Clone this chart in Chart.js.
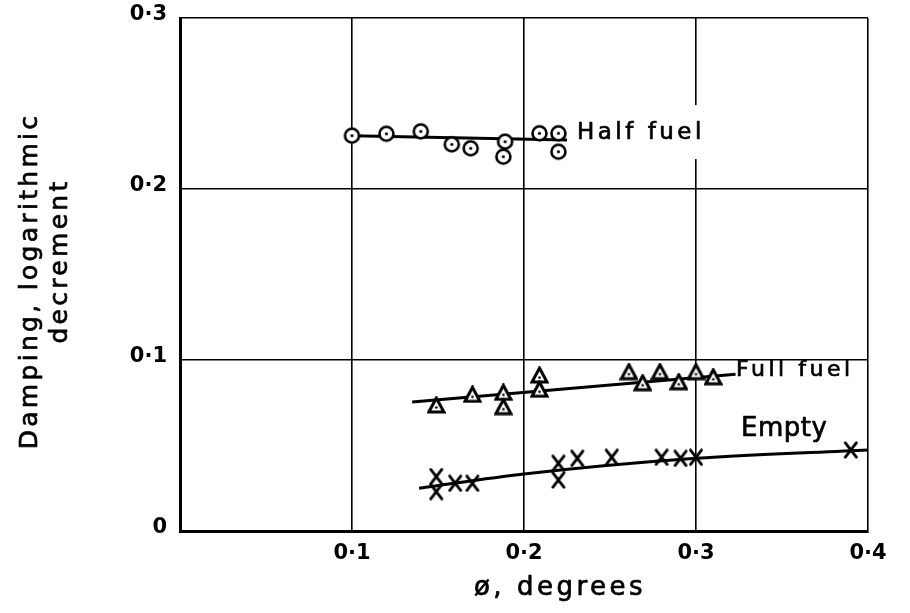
<!DOCTYPE html>
<html><head><meta charset="utf-8">
<script src="https://cdn.jsdelivr.net/npm/chart.js@4"></script>
<style>html,body{margin:0;padding:0;background:#fff}#wrap{width:910px;height:613px;position:relative;background:#fff}</style>
</head><body><div id="wrap"><canvas id="c" width="910" height="613"></canvas></div>
<script>
// ---- data ----
const halfX  = [0.100, 0.120, 0.140, 0.158, 0.169, 0.189, 0.188, 0.209, 0.220, 0.220];
const halfY  = [0.2312, 0.2323, 0.2337, 0.2261, 0.2238, 0.2277, 0.2189, 0.2326, 0.2326, 0.2218];
const fullX  = [0.149, 0.170, 0.188, 0.188, 0.209, 0.209, 0.261, 0.269, 0.279, 0.290, 0.300, 0.310];
const fullY  = [0.0737, 0.0799, 0.0811, 0.0727, 0.0912, 0.0829, 0.0932, 0.0867, 0.0932, 0.0873, 0.0932, 0.0902];
const emptyX = [0.149, 0.149, 0.160, 0.170, 0.220, 0.220, 0.231, 0.251, 0.280, 0.291, 0.300, 0.390];
const emptyY = [0.0318, 0.0230, 0.0279, 0.0279, 0.0396, 0.0298, 0.0425, 0.0431, 0.0431, 0.0425, 0.0431, 0.0474];
const halfFitX  = [0.100, 0.225];
const halfFitY  = [0.2312, 0.2287];
const fullFitX  = [0.135, 0.323];
const fullFitY  = [0.0755, 0.0916];
const emptyFitX = [0.139, 0.200, 0.300, 0.400];
const emptyFitY = [0.0250, 0.0333, 0.0425, 0.0474];
const xTickLabels = ['', '0·1', '0·2', '0·3', '0·4'];
const yTickLabels = ['0', '0·1', '0·2', '0·3'];
const seriesNames = ['Half fuel', 'Full fuel', 'Empty'];
const xTitle = 'ø, degrees';
const yTitle = ['Damping, logarithmic', 'decrement'];

// ---- marker images ----
function mk(w, h, draw) {
  const c = document.createElement('canvas'); c.width = w; c.height = h;
  const g = c.getContext('2d'); g.strokeStyle = '#000'; g.fillStyle = '#fff'; draw(g); return c;
}
const circleDot = mk(19, 19, g => {
  g.lineWidth = 2.6; g.beginPath(); g.arc(9.5, 9.5, 7, 0, Math.PI * 2); g.fill(); g.stroke();
  g.fillStyle = '#000'; g.beginPath(); g.arc(9.5, 9.5, 1.6, 0, Math.PI * 2); g.fill();
});
const triDot = mk(19, 18, g => {
  g.lineWidth = 3; g.lineJoin = 'miter'; g.beginPath();
  g.moveTo(9.5, 2); g.lineTo(17, 16); g.lineTo(2, 16); g.closePath(); g.fill(); g.stroke();
  g.fillStyle = '#000'; g.beginPath(); g.arc(9.5, 11.5, 1.3, 0, Math.PI * 2); g.fill();
});
const xMark = mk(16, 18, g => {
  g.lineWidth = 2.8; g.lineCap = 'round'; g.beginPath();
  g.moveTo(2.5, 1.8); g.lineTo(13.5, 16.2); g.moveTo(13.5, 1.8); g.lineTo(2.5, 16.2); g.stroke();
});

const pts = (xs, ys) => xs.map((x, i) => ({ x, y: ys[i] }));

// ---- text plugin (axis titles and series labels) ----
function heavyText(ctx, t, x, y) { ctx.fillText(t, x, y); ctx.strokeText(t, x, y); }
const textPlugin = {
  id: 'texts',
  afterDraw(chart) {
    const ctx = chart.ctx, xs = chart.scales.x, ys = chart.scales.y;
    ctx.save();
    ctx.fillStyle = '#000'; ctx.strokeStyle = '#000'; ctx.lineWidth = 0.7; ctx.lineJoin = 'round';
    ctx.textBaseline = 'alphabetic';
    const labels = [
      { t: seriesNames[0], x: 0.2308, y: 0.2292, f: '23px "DejaVu Sans"', s: '3.5px', clear: true },
      { t: seriesNames[1], x: 0.3233, y: 0.0906, f: '22px "DejaVu Sans"', s: '3.5px' },
      { t: seriesNames[2], x: 0.3262, y: 0.0556, f: '26px "DejaVu Sans"', s: '0.5px' }
    ];
    ctx.textAlign = 'left';
    for (const l of labels) {
      ctx.font = l.f; ctx.letterSpacing = l.s;
      const px = xs.getPixelForValue(l.x), py = ys.getPixelForValue(l.y);
      if (l.clear) {
        const w = ctx.measureText(l.t).width;
        ctx.fillStyle = '#fff'; ctx.fillRect(px - 3, py - 34, w + 6, 54); ctx.fillStyle = '#000';
      }
      heavyText(ctx, l.t, px, py);
    }
    ctx.font = '26px "DejaVu Sans"'; ctx.letterSpacing = '3.5px'; ctx.textAlign = 'center';
    heavyText(ctx, xTitle, 560, 595);
    ctx.font = '25px "DejaVu Sans"'; ctx.letterSpacing = '3.3px';
    const lines = [{ bx: 37, cy: 281 }, { bx: 67, cy: 261 }];
    yTitle.forEach((t, i) => {
      ctx.save(); ctx.translate(lines[i].bx, lines[i].cy); ctx.rotate(-Math.PI / 2);
      heavyText(ctx, t, 0, 0); ctx.restore();
    });
    ctx.restore();
  }
};

const tickFont = { family: 'DejaVu Sans', size: 21, weight: 'bold' };

new Chart(document.getElementById('c'), {
  type: 'scatter',
  data: {
    datasets: [
      { label: seriesNames[0], data: pts(halfX, halfY), pointStyle: circleDot, pointRadius: 9, order: 1 },
      { label: seriesNames[1], data: pts(fullX, fullY), pointStyle: triDot, pointRadius: 9, order: 1 },
      { label: seriesNames[2], data: pts(emptyX, emptyY), pointStyle: xMark, pointRadius: 9, order: 1 },
      { label: seriesNames[0] + ' fit', data: pts(halfFitX, halfFitY), showLine: true, borderColor: '#000', borderWidth: 3, pointRadius: 0, order: 5 },
      { label: seriesNames[1] + ' fit', data: pts(fullFitX, fullFitY), showLine: true, borderColor: '#000', borderWidth: 3, pointRadius: 0, order: 5 },
      { label: seriesNames[2] + ' fit', data: pts(emptyFitX, emptyFitY), showLine: true, borderColor: '#000', borderWidth: 3, pointRadius: 0, cubicInterpolationMode: 'monotone', order: 5 }
    ]
  },
  options: {
    responsive: false, animation: false, devicePixelRatio: 1,
    layout: { padding: { left: 0, top: 18, right: 42, bottom: 0 } },
    plugins: { legend: { display: false }, tooltip: { enabled: false } },
    scales: {
      x: {
        type: 'linear', min: 0, max: 0.4,
        ticks: { stepSize: 0.1, color: '#000', font: tickFont, padding: 10, maxRotation: 0, autoSkip: false,
                 callback: (v, i) => xTickLabels[i] },
        grid: { color: '#000', lineWidth: 1.6, drawTicks: false },
        border: { display: true, color: '#000', width: 3 },
        afterFit(s) { s.height = 82; s.paddingLeft = 0; s.paddingRight = 0; }
      },
      y: {
        type: 'linear', min: 0, max: 0.3,
        ticks: { stepSize: 0.1, color: '#000', font: tickFont, padding: 13, labelOffset: -3,
                 callback: (v, i) => yTickLabels[i] },
        grid: { color: '#000', lineWidth: 1.6, drawTicks: false },
        border: { display: true, color: '#000', width: 3 },
        afterFit(s) { s.width = 180; s.paddingTop = 0; s.paddingBottom = 0; }
      }
    }
  },
  plugins: [textPlugin]
});
</script>
</body></html>
